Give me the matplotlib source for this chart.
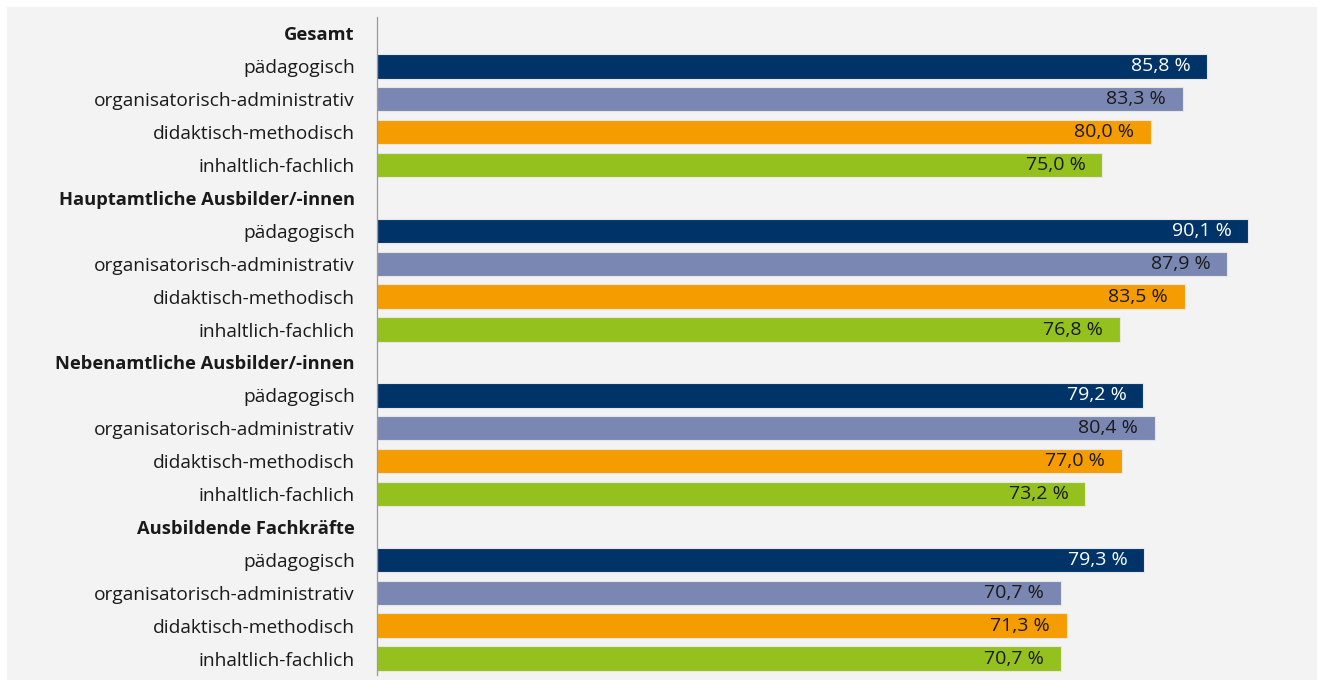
import numpy as np
import matplotlib.pyplot as plt
from matplotlib.patches import Rectangle

plt.rcParams['font.family'] = ['Open Sans', 'DejaVu Sans']

# data
groups = ["Gesamt", "Hauptamtliche Ausbilder/-innen",
          "Nebenamtliche Ausbilder/-innen", "Ausbildende Fachkräfte"]
categories = ["pädagogisch", "organisatorisch-administrativ",
              "didaktisch-methodisch", "inhaltlich-fachlich"]
gesamt = [85.8, 83.3, 80.0, 75.0]
hauptamtlich = [90.1, 87.9, 83.5, 76.8]
nebenamtlich = [79.2, 80.4, 77.0, 73.2]
fachkraefte = [79.3, 70.7, 71.3, 70.7]
values = [gesamt, hauptamtlich, nebenamtlich, fachkraefte]

colors = ["#003468", "#7a87b2", "#f59c00", "#95c11f"]
text_colors = ["white", "#1a1a1a", "#1a1a1a", "#1a1a1a"]

W, H = 1319, 682
fig = plt.figure(figsize=(W / 100, H / 100), dpi=100, facecolor="white")
# grey panel behind everything
fig.patches.append(Rectangle((7 / W, 2 / H), 1310 / W, 673 / H,
                             transform=fig.transFigure, facecolor="#f3f3f3",
                             edgecolor="none", zorder=-5))

ax = fig.add_axes([377 / W, 7 / H, 940 / W, 658 / H])
ax.set_facecolor("none")
ax.set_zorder(2)

ylabels = []
bold = []
row = 0
for g, vals in zip(groups, values):
    ylabels.append(g)
    bold.append(True)
    row += 1
    for i, (cat, v) in enumerate(zip(categories, vals)):
        ax.barh(row, v, height=0.74, color=colors[i], edgecolor="#e6e6e6",
                linewidth=0.8)
        ax.text(v - 1.7, row, f"{v:.1f}".replace(".", ",") + " %",
                ha="right", va="center", fontsize=14, color=text_colors[i])
        ylabels.append(cat)
        bold.append(False)
        row += 1

ax.set_yticks(np.arange(len(ylabels)))
ax.set_yticklabels(ylabels, fontsize=13.8, color="#1a1a1a")
for lab, b in zip(ax.get_yticklabels(), bold):
    if b:
        lab.set_fontweight("bold")
        lab.set_fontsize(13.2)
ax.tick_params(axis="y", length=0, pad=16)
ax.set_ylim(len(ylabels) - 0.5, -0.5)
ax.set_xlim(0, 97.2)
ax.set_xticks([])
for s in ["top", "right", "bottom"]:
    ax.spines[s].set_visible(False)
ax.spines["left"].set_color("#999999")
ax.spines["left"].set_linewidth(0.9)

fig.savefig("out.png", dpi=100, facecolor="white")
